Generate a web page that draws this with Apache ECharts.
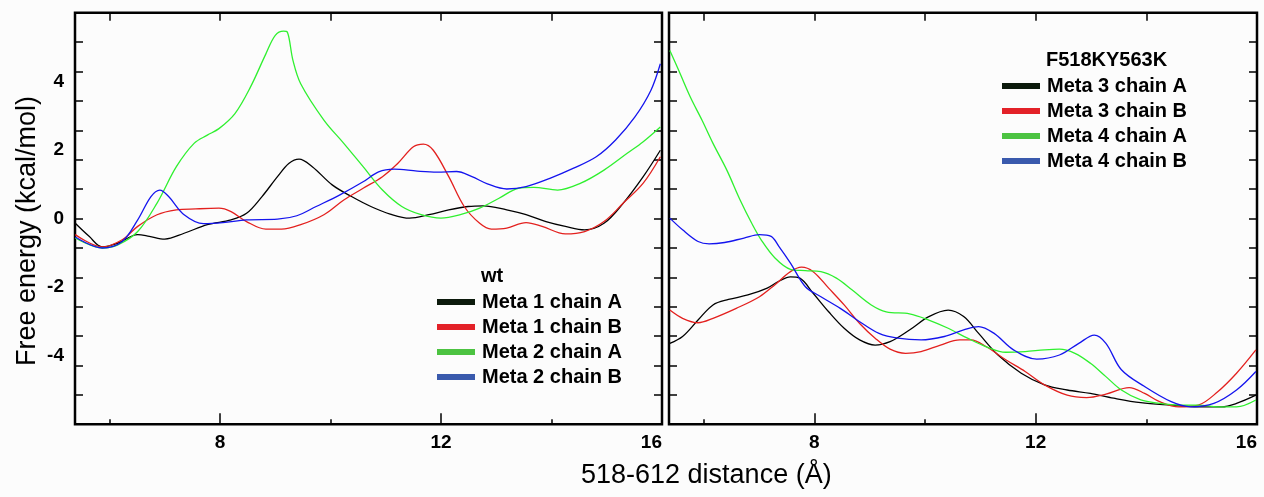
<!DOCTYPE html>
<html>
<head>
<meta charset="utf-8">
<script src="https://cdn.jsdelivr.net/npm/echarts@6/dist/echarts.min.js"></script>
<style>
html, body { margin: 0; padding: 0; background: #fcfcfc; }
#chart { width: 1264px; height: 497px; }
</style>
</head>
<body>
<div id="chart"></div>
<script>
// x ticks / labels (distance, Å)
const xLabels = [8, 12, 16]
const xMajorTicks = [8, 12]
const xMinorTicks = [6, 10, 14]
const xTopTicks = [6, 8, 10, 12, 14]
const yLabels = [-4, -2, 0, 2, 4]

// wt panel: [distance, free energy]
const meta1A = [[5.38,-0.14],[5.63,-0.52],[5.87,-0.83],[6.15,-0.72],[6.51,-0.47],[6.72,-0.52],[7.00,-0.60],[7.35,-0.43],[7.77,-0.18],[8.20,-0.04],[8.48,0.15],[8.76,0.64],[9.04,1.22],[9.25,1.61],[9.43,1.73],[9.67,1.51],[10.03,0.98],[10.38,0.64],[10.73,0.35],[11.08,0.13],[11.43,0.01],[11.78,0.11],[12.14,0.25],[12.49,0.35],[12.77,0.37],[13.19,0.25],[13.54,0.11],[13.90,-0.09],[14.25,-0.23],[14.60,-0.33],[14.95,-0.14],[15.30,0.45],[15.66,1.22],[15.97,1.99]]
const meta1B = [[5.38,-0.47],[5.87,-0.83],[6.23,-0.62],[6.51,-0.23],[6.86,0.11],[7.21,0.25],[7.56,0.28],[7.98,0.30],[8.20,0.20],[8.48,-0.09],[8.83,-0.31],[9.11,-0.31],[9.46,-0.18],[9.88,0.11],[10.24,0.54],[10.59,0.88],[10.94,1.22],[11.22,1.61],[11.50,2.09],[11.68,2.17],[11.86,1.99],[12.14,1.22],[12.42,0.35],[12.70,-0.14],[12.91,-0.31],[13.19,-0.28],[13.54,-0.12],[13.83,-0.23],[14.25,-0.45],[14.60,-0.38],[14.95,-0.09],[15.30,0.45],[15.66,1.03],[15.97,1.80]]
const meta2A = [[5.38,-0.57],[5.87,-0.86],[6.15,-0.77],[6.51,-0.38],[6.86,0.45],[7.21,1.51],[7.53,2.19],[7.77,2.43],[7.98,2.62],[8.27,3.06],[8.55,3.83],[8.83,4.80],[9.00,5.34],[9.15,5.46],[9.22,5.43],[9.32,4.61],[9.46,3.93],[9.88,2.87],[10.24,2.19],[10.59,1.51],[10.94,0.83],[11.29,0.35],[11.64,0.11],[12.00,0.01],[12.35,0.11],[12.70,0.30],[13.05,0.59],[13.40,0.88],[13.68,0.91],[14.11,0.83],[14.53,1.03],[14.95,1.41],[15.37,1.90],[15.66,2.24],[15.97,2.67]]
const meta2B = [[5.38,-0.54],[5.87,-0.86],[6.23,-0.67],[6.51,-0.04],[6.75,0.64],[6.91,0.83],[7.07,0.64],[7.35,0.11],[7.70,-0.15],[8.05,-0.12],[8.48,-0.04],[9.04,-0.02],[9.39,0.08],[9.74,0.35],[10.17,0.69],[10.59,1.07],[10.87,1.36],[11.15,1.44],[11.57,1.38],[11.93,1.35],[12.28,1.37],[12.56,1.22],[12.84,1.01],[13.19,0.86],[13.54,0.93],[13.97,1.17],[14.39,1.46],[14.81,1.80],[15.16,2.29],[15.51,2.96],[15.80,3.74],[15.97,4.51]]

// F518KY563K panel
const meta3A = [[5.39,-3.64],[5.62,-3.44],[5.90,-2.96],[6.17,-2.52],[6.45,-2.36],[6.80,-2.23],[7.15,-2.03],[7.36,-1.83],[7.57,-1.70],[7.74,-1.74],[7.98,-2.18],[8.26,-2.72],[8.54,-3.20],[8.82,-3.54],[9.10,-3.69],[9.37,-3.59],[9.72,-3.25],[10.07,-2.86],[10.42,-2.67],[10.70,-2.86],[10.97,-3.35],[11.32,-3.98],[11.74,-4.51],[12.16,-4.85],[12.57,-5.00],[12.99,-5.10],[13.41,-5.24],[13.90,-5.37],[14.45,-5.44],[14.94,-5.49],[15.36,-5.49],[15.63,-5.39],[15.98,-5.15]]
const meta3B = [[5.39,-2.67],[5.62,-2.91],[5.90,-3.04],[6.17,-2.91],[6.59,-2.62],[7.01,-2.28],[7.29,-1.93],[7.57,-1.55],[7.77,-1.42],[7.98,-1.55],[8.26,-2.03],[8.54,-2.52],[8.82,-3.06],[9.10,-3.49],[9.37,-3.81],[9.65,-3.93],[9.93,-3.88],[10.28,-3.69],[10.63,-3.54],[10.83,-3.54],[11.11,-3.74],[11.46,-4.12],[11.81,-4.46],[12.16,-4.85],[12.57,-5.15],[12.92,-5.22],[13.27,-5.12],[13.69,-4.93],[13.97,-5.10],[14.24,-5.34],[14.59,-5.49],[14.94,-5.44],[15.29,-5.05],[15.63,-4.51],[15.98,-3.83]]
const meta4A = [[5.39,4.90],[5.55,4.32],[5.76,3.54],[5.97,2.87],[6.17,2.19],[6.42,1.41],[6.66,0.54],[6.87,-0.14],[7.04,-0.62],[7.29,-1.15],[7.57,-1.48],[7.84,-1.52],[8.12,-1.55],[8.40,-1.74],[8.68,-2.08],[9.03,-2.52],[9.30,-2.72],[9.72,-2.78],[10.07,-2.96],[10.42,-3.20],[10.77,-3.49],[11.11,-3.74],[11.46,-3.90],[11.81,-3.88],[12.16,-3.83],[12.43,-3.81],[12.71,-3.93],[12.99,-4.22],[13.27,-4.61],[13.55,-5.00],[13.90,-5.29],[14.24,-5.39],[14.59,-5.44],[14.94,-5.44],[15.29,-5.49],[15.63,-5.49],[15.98,-5.29]]
const meta4B = [[5.39,0.01],[5.62,-0.33],[5.90,-0.67],[6.10,-0.74],[6.38,-0.70],[6.73,-0.57],[7.01,-0.47],[7.22,-0.52],[7.36,-0.81],[7.57,-1.30],[7.84,-1.99],[8.12,-2.28],[8.47,-2.62],[8.82,-3.01],[9.17,-3.35],[9.51,-3.49],[9.93,-3.54],[10.35,-3.44],[10.70,-3.25],[10.97,-3.15],[11.25,-3.35],[11.60,-3.83],[12.02,-4.10],[12.43,-3.98],[12.78,-3.64],[13.06,-3.40],[13.27,-3.64],[13.55,-4.41],[13.97,-4.90],[14.45,-5.34],[14.80,-5.49],[15.22,-5.39],[15.63,-5.00],[15.98,-4.46]]

const lineColors = ['#000000', '#e3201e', '#2ff02f', '#1414ee']
const swatchColors = ['#0c1a0c', '#e32128', '#4cc341', '#3a5aad']

const chart = echarts.init(document.getElementById('chart'))

const XMIN = 5.375
const XMAX = 16
// frame ticks on y sit on a 14-step grid, labels on a 12-step one
const yTicks = [-6, -5, -4, -3, -2, -1, 0, 1, 2, 3, 4, 5, 6].map(k => k * 6 / 7)
const labelFont = { color: '#000', fontSize: 19, fontWeight: 'bold', fontFamily: 'Liberation Sans, Arial, sans-serif' }
const tickLine = { color: '#000', width: 1.5 }
const noLine = { show: false, onZero: false }

function xAxes(grid) {
  return [
    {
      gridIndex: grid, type: 'value', min: XMIN, max: XMAX, position: 'bottom',
      axisLine: noLine, splitLine: { show: false },
      axisTick: { inside: true, length: 11, customValues: xMajorTicks, lineStyle: tickLine },
      axisLabel: { customValues: xLabels, margin: 9, alignMaxLabel: 'right', ...labelFont }
    },
    {
      gridIndex: grid, type: 'value', min: XMIN, max: XMAX, position: 'bottom',
      axisLine: noLine, splitLine: { show: false }, axisLabel: { show: false },
      axisTick: { inside: true, length: 5, customValues: xMinorTicks, lineStyle: tickLine }
    },
    {
      gridIndex: grid, type: 'value', min: XMIN, max: XMAX, position: 'top',
      axisLine: noLine, splitLine: { show: false }, axisLabel: { show: false },
      axisTick: { inside: true, length: 8, customValues: xTopTicks, lineStyle: tickLine }
    }
  ]
}

function yAxes(grid, withLabels) {
  return [
    {
      gridIndex: grid, type: 'value', min: -6, max: 6, position: 'left',
      axisLine: noLine, splitLine: { show: false },
      axisTick: { inside: true, length: 8, customValues: yTicks, lineStyle: tickLine },
      axisLabel: { show: withLabels, customValues: yLabels, margin: 11, ...labelFont }
    },
    {
      gridIndex: grid, type: 'value', min: -6, max: 6, position: 'right',
      axisLine: noLine, splitLine: { show: false }, axisLabel: { show: false },
      axisTick: { inside: true, length: 8, customValues: yTicks, lineStyle: tickLine }
    }
  ]
}

function line(name, data, color, xi, yi) {
  return {
    name, type: 'line', data, xAxisIndex: xi, yAxisIndex: yi,
    showSymbol: false, smooth: 0.35, silent: true,
    lineStyle: { color, width: 1.3 }, itemStyle: { color }
  }
}

const leftNames = ['Meta 1 chain A', 'Meta 1 chain B', 'Meta 2 chain A', 'Meta 2 chain B']
const rightNames = ['Meta 3 chain A', 'Meta 3 chain B', 'Meta 4 chain A', 'Meta 4 chain B']

function legend(names, left, top) {
  return {
    orient: 'vertical', left, top, itemGap: 5, itemWidth: 38, itemHeight: 6,
    selectedMode: false, icon: 'rect',
    textStyle: { ...labelFont, fontSize: 20, lineHeight: 20, padding: [0, 0, 0, 2] },
    data: names.map((n, i) => ({ name: n, itemStyle: { color: swatchColors[i] } }))
  }
}

const option = {
  animation: false,
  backgroundColor: '#fcfcfc',
  grid: [
    { left: 75, top: 12.7, width: 587, height: 411.6, show: true, borderColor: '#000', borderWidth: 2.5, backgroundColor: 'transparent' },
    { left: 669, top: 12.7, width: 588, height: 411.6, show: true, borderColor: '#000', borderWidth: 2.5, backgroundColor: 'transparent' }
  ],
  xAxis: [...xAxes(0), ...xAxes(1)],
  yAxis: [...yAxes(0, true), ...yAxes(1, false)],
  legend: [legend(leftNames, 432, 287), legend(rightNames, 997, 71)],
  title: [
    { text: 'wt', left: 476, top: 261, textStyle: { ...labelFont, fontSize: 20 } },
    { text: 'F518KY563K', left: 1041, top: 45, textStyle: { ...labelFont, fontSize: 20 } }
  ],
  graphic: [
    {
      type: 'text', x: 28, y: 231, rotation: Math.PI / 2,
      style: { text: 'Free energy (kcal/mol)', fontSize: 27, fontFamily: 'Liberation Sans, Arial, sans-serif', fill: '#000', align: 'center', verticalAlign: 'middle' }
    },
    {
      type: 'text', x: 581, y: 476,
      style: { text: '518-612 distance (Å)', fontSize: 27, fontFamily: 'Liberation Sans, Arial, sans-serif', fill: '#000', align: 'left', verticalAlign: 'middle' }
    }
  ],
  series: [
    line(leftNames[0], meta1A, lineColors[0], 0, 0),
    line(leftNames[1], meta1B, lineColors[1], 0, 0),
    line(leftNames[2], meta2A, lineColors[2], 0, 0),
    line(leftNames[3], meta2B, lineColors[3], 0, 0),
    line(rightNames[0], meta3A, lineColors[0], 3, 2),
    line(rightNames[1], meta3B, lineColors[1], 3, 2),
    line(rightNames[2], meta4A, lineColors[2], 3, 2),
    line(rightNames[3], meta4B, lineColors[3], 3, 2)
  ]
}

chart.setOption(option)
</script>
</body>
</html>
